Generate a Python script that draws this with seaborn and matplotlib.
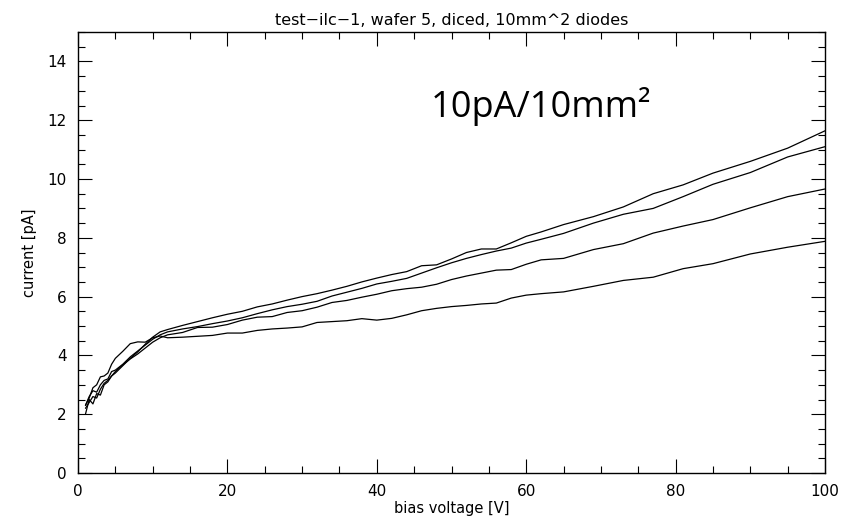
import numpy as np
import pandas as pd
import matplotlib
matplotlib.use("Agg")
import matplotlib.pyplot as plt
import seaborn as sns
from matplotlib.ticker import MultipleLocator

# bias voltage steps [V]
voltage = [1, 1.5, 2, 2.5, 3, 3.5, 4, 4.5, 5, 6, 7, 8, 9, 10, 11, 12, 14, 16, 18, 20,
           22, 24, 26, 28, 30, 32, 34, 36, 38, 40, 42, 44, 46, 48, 50, 52, 54, 56, 58, 60,
           62, 65, 69, 73, 77, 81, 85, 90, 95, 100]

# leakage current [pA] for each diode
diode_a = [2.0, 2.5, 2.35, 2.7, 2.65, 3.0, 3.1, 3.3, 3.4, 3.65, 3.9, 4.12, 4.38, 4.62, 4.8,
           4.88, 5.02, 5.15, 5.28, 5.4, 5.5, 5.65, 5.75, 5.88, 6.0, 6.1, 6.22, 6.35, 6.5, 6.63,
           6.75, 6.85, 7.05, 7.08, 7.28, 7.5, 7.62, 7.62, 7.83, 8.05, 8.2, 8.45, 8.72, 9.05,
           9.5, 9.8, 10.2, 10.6, 11.05, 11.64]
diode_b = [2.3, 2.6, 2.8, 2.75, 3.0, 3.15, 3.2, 3.45, 3.5, 3.7, 3.95, 4.15, 4.35, 4.55, 4.7,
           4.8, 4.9, 4.98, 5.08, 5.17, 5.28, 5.42, 5.55, 5.66, 5.74, 5.84, 6.02, 6.15, 6.28,
           6.43, 6.52, 6.62, 6.8, 6.98, 7.15, 7.3, 7.43, 7.55, 7.65, 7.82, 7.95, 8.15, 8.5,
           8.8, 9.0, 9.4, 9.82, 10.22, 10.75, 11.1]
diode_c = [2.2, 2.4, 2.6, 2.55, 2.85, 3.05, 3.15, 3.3, 3.45, 3.68, 3.88, 4.05, 4.25, 4.45, 4.6,
           4.7, 4.78, 4.95, 4.96, 5.05, 5.2, 5.3, 5.32, 5.46, 5.52, 5.64, 5.8, 5.87, 5.98,
           6.08, 6.2, 6.27, 6.32, 6.42, 6.58, 6.7, 6.8, 6.9, 6.92, 7.1, 7.25, 7.3, 7.6, 7.8,
           8.16, 8.4, 8.62, 9.02, 9.4, 9.66]
diode_d = [2.3, 2.55, 2.9, 3.0, 3.27, 3.3, 3.4, 3.7, 3.9, 4.14, 4.4, 4.46, 4.45, 4.6, 4.66,
           4.6, 4.62, 4.65, 4.68, 4.76, 4.76, 4.85, 4.9, 4.93, 4.97, 5.12, 5.15, 5.18, 5.25,
           5.2, 5.26, 5.38, 5.52, 5.6, 5.66, 5.7, 5.75, 5.78, 5.95, 6.05, 6.1, 6.16, 6.35,
           6.55, 6.66, 6.95, 7.12, 7.45, 7.68, 7.88]

diodes = {"a": diode_a, "b": diode_b, "c": diode_c, "d": diode_d}
df = pd.concat([pd.DataFrame({"voltage": voltage, "current": cur, "diode": name})
                for name, cur in diodes.items()], ignore_index=True)

sns.set_style("ticks")
plt.rcParams['font.family'] = ['DejaVu Sans']
plt.rcParams['text.color'] = 'black'
plt.rcParams['axes.labelcolor'] = 'black'
plt.rcParams['xtick.color'] = 'black'
plt.rcParams['ytick.color'] = 'black'

fig = plt.figure(figsize=(8.57, 5.23), dpi=100)
ax = fig.add_axes([0.091, 0.0956, 0.8717, 0.8432])

sns.lineplot(data=df, x="voltage", y="current", hue="diode",
             palette=["black"] * 4, estimator=None, sort=False,
             linewidth=0.9, legend=False, ax=ax)

ax.set_xlim(0, 100)
ax.set_ylim(0, 15)
ax.xaxis.set_major_locator(MultipleLocator(20))
ax.xaxis.set_minor_locator(MultipleLocator(5))
ax.yaxis.set_major_locator(MultipleLocator(2))
ax.yaxis.set_minor_locator(MultipleLocator(0.5))
ax.tick_params(which="both", direction="in", top=True, right=True,
               labelsize=11, width=0.8, color="black", pad=8)
ax.tick_params(which="major", length=10)
ax.tick_params(which="minor", length=5)
for s in ax.spines.values():
    s.set_linewidth(1.0)
    s.set_color("black")

ax.set_xlabel("bias voltage [V]", fontsize=10.5, labelpad=1)
ax.set_ylabel("current [pA]", fontsize=10.5, labelpad=8)
ax.set_title("test\u2212ilc\u22121, wafer 5, diced, 10mm^2 diodes", fontsize=11.5, pad=5)

ax.text(0.62, 0.83, "10pA/10mm\u00b2", transform=ax.transAxes, fontsize=26,
        family="Open Sans", ha="center", va="center")

fig.savefig("out.png", dpi=100)
